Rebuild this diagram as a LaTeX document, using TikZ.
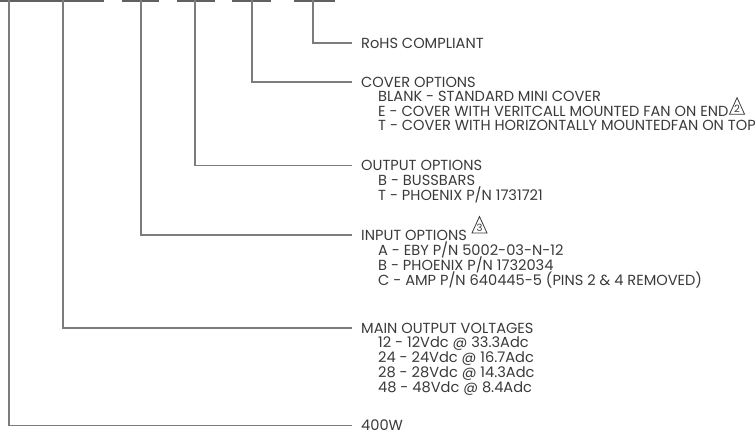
\documentclass[tikz,border=0pt]{standalone}
\usepackage{fontspec}
\setmainfont{Poppins}
\usetikzlibrary{positioning}
\definecolor{txtgray}{HTML}{3A3A3A}
\definecolor{leadgray}{HTML}{7C7C7C}
\tikzset{
  codebar/.style = {draw=black!62, line width=2pt},
  lead/.style    = {draw=leadgray, line width=1.3pt, shorten >=9pt},
  head/.style    = {anchor=base west, inner sep=0pt, text=txtgray,
                    font=\fontsize{14.6}{15}\selectfont},
  item/.style    = {head},
  revline/.style = {draw=txtgray, line width=0.8pt, line join=miter},
  revnum/.style  = {inner sep=0pt, text=txtgray, font=\fontsize{10}{10}\selectfont},
}

\begin{document}
\begin{tikzpicture}[x=1pt, y=-1pt]
  \useasboundingbox (0,0) rectangle (755,434);

  % code fields along the top
  \draw[codebar] (0,1) -- (104,1);
  \draw[codebar] (122,1) -- (159,1);
  \draw[codebar] (177,1) -- (215,1);
  \draw[codebar] (232,1) -- (271,1);
  \draw[codebar] (294,1) -- (335,1);
  \coordinate (fpow)   at (9,0);
  \coordinate (fvolt)  at (63,0);
  \coordinate (finp)   at (141,0);
  \coordinate (fout)   at (195,0);
  \coordinate (fcov)   at (252,0);
  \coordinate (frohs)  at (313,0);

  % headings
  \node[head] (rohs)  at (361,48)    {RoHS COMPLIANT};
  \node[head] (cover) at (361,87)    {COVER OPTIONS};
  \node[head] (outp)  at (361,170.5) {OUTPUT OPTIONS};
  \node[head] (inp)   at (361,240)   {INPUT OPTIONS};
  \node[head] (volt)  at (361,333)   {MAIN OUTPUT VOLTAGES};
  \node[head] (watt)  at (361,430.5) {400W};

  % option lists
  \foreach \txt [count=\i] in {BLANK - STANDARD MINI COVER,
      E - COVER WITH VERITCALL MOUNTED FAN ON END,
      T - COVER WITH HORIZONTALLY MOUNTEDFAN ON TOP}
    \node[item] (cover\i) at (378,{87+14.6*\i}) {\txt};
  \foreach \txt [count=\i] in {B - BUSSBARS, T - PHOENIX P/N 1731721}
    \node[item] (outp\i) at (378,{170.5+15.2*\i}) {\txt};
  \foreach \txt [count=\i] in {A - EBY P/N 5002-03-N-12,
      B - PHOENIX P/N 1732034,
      C - AMP P/N 640445-5 (PINS 2 \& 4 REMOVED)}
    \node[item] (inp\i) at (378,{240+15.1*\i}) {\txt};
  \foreach \txt [count=\i] in {12 - 12Vdc @ 33.3Adc, 24 - 24Vdc @ 16.7Adc,
      28 - 28Vdc @ 14.3Adc, 48 - 48Vdc @ 8.4Adc}
    \node[item] (volt\i) at (378,{333+14.75*\i}) {\txt};

  % revision marks
  \coordinate (rev2) at ([xshift=1pt,yshift=2pt]cover2.base east);
  \coordinate (rev3) at ([xshift=111pt,yshift=7pt]inp.base west);
  \foreach \r in {2,3} {
    \draw[revline] (rev\r) -- ++(15,0) -- ++(-7.5,-16.5) -- cycle;
    \node[revnum, anchor=base] (revnum\r) at ([shift={(7.5,-2)}]rev\r) {\r};
  }

  % leaders
  \draw[lead] (frohs) |- (rohs.west);
  \draw[lead] (fcov)  |- (cover.west);
  \draw[lead] (fout)  |- (outp.west);
  \draw[lead] (finp)  |- (inp.west);
  \draw[lead] (fvolt) |- (volt.west);
  \draw[lead] (fpow)  |- (watt.west);
\end{tikzpicture}
\end{document}
